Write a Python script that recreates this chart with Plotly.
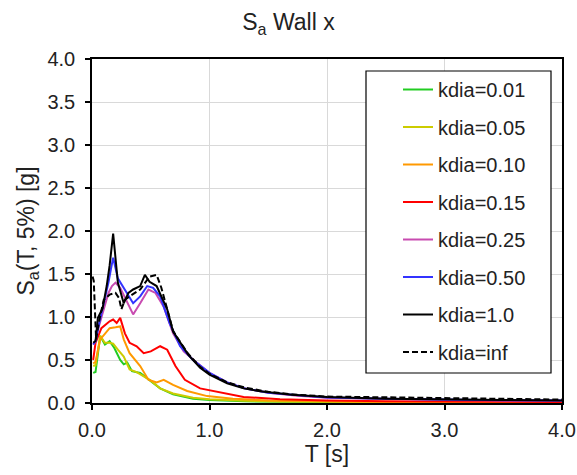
import plotly.graph_objects as go

# Spectral acceleration S_a(T, 5%) of the wall in x, for several diaphragm stiffnesses
labels = ["kdia=0.01", "kdia=0.05", "kdia=0.10", "kdia=0.15",
          "kdia=0.25", "kdia=0.50", "kdia=1.0", "kdia=inf"]
colors = ["#22CC22", "#CCCC00", "#FF9900", "#FF0000",
          "#C84BB0", "#3333FF", "#000000", "#000000"]
dashes = ["solid"] * 7 + ["6px,3px"]

T_k001 = [0.01, 0.03, 0.07, 0.11, 0.15, 0.19, 0.24, 0.27, 0.30, 0.34, 0.41, 0.49, 0.58, 0.69, 0.86, 1.0, 1.3, 1.6, 2.0, 2.5, 3.0, 3.5, 4.0]
Sa_k001 = [0.35, 0.36, 0.78, 0.68, 0.72, 0.64, 0.50, 0.45, 0.47, 0.37, 0.35, 0.27, 0.17, 0.10, 0.05, 0.035, 0.02, 0.015, 0.01, 0.008, 0.006, 0.005, 0.004]

T_k005 = [0.01, 0.03, 0.07, 0.11, 0.15, 0.18, 0.22, 0.27, 0.32, 0.38, 0.49, 0.58, 0.69, 0.86, 1.0, 1.3, 1.6, 2.0, 2.5, 3.0, 3.5, 4.0]
Sa_k005 = [0.43, 0.44, 0.78, 0.70, 0.70, 0.69, 0.62, 0.54, 0.39, 0.36, 0.27, 0.17, 0.11, 0.06, 0.045, 0.025, 0.018, 0.012, 0.009, 0.007, 0.006, 0.005]

T_k010 = [0.01, 0.03, 0.07, 0.11, 0.15, 0.20, 0.24, 0.27, 0.32, 0.41, 0.48, 0.55, 0.61, 0.69, 0.81, 0.98, 1.2, 1.5, 2.0, 2.5, 3.0, 3.5, 4.0]
Sa_k010 = [0.46, 0.48, 0.74, 0.80, 0.87, 0.88, 0.89, 0.74, 0.58, 0.43, 0.27, 0.24, 0.27, 0.21, 0.14, 0.08, 0.05, 0.03, 0.018, 0.012, 0.01, 0.008, 0.007]

T_k015 = [0.01, 0.03, 0.08, 0.12, 0.15, 0.18, 0.21, 0.24, 0.28, 0.32, 0.38, 0.44, 0.50, 0.58, 0.64, 0.71, 0.79, 0.92, 1.09, 1.29, 1.6, 2.0, 2.5, 3.0, 3.5, 4.0]
Sa_k015 = [0.50, 0.70, 0.87, 0.92, 0.95, 0.97, 0.93, 0.99, 0.81, 0.70, 0.66, 0.58, 0.60, 0.66, 0.62, 0.43, 0.27, 0.17, 0.12, 0.07, 0.045, 0.03, 0.02, 0.016, 0.013, 0.011]

T_k025 = [0.01, 0.03, 0.06, 0.10, 0.14, 0.17, 0.20, 0.24, 0.30, 0.35, 0.41, 0.48, 0.54, 0.61, 0.69, 0.78, 0.89, 1.0, 1.15, 1.3, 1.5, 1.75, 2.0, 2.5, 3.0, 3.5, 4.0]
Sa_k025 = [0.68, 0.72, 0.90, 1.10, 1.28, 1.36, 1.40, 1.34, 1.16, 1.03, 1.16, 1.32, 1.28, 1.12, 0.81, 0.60, 0.47, 0.35, 0.24, 0.17, 0.12, 0.085, 0.06, 0.045, 0.035, 0.03, 0.026]

T_k050 = [0.01, 0.03, 0.06, 0.10, 0.14, 0.16, 0.18, 0.22, 0.28, 0.35, 0.41, 0.47, 0.52, 0.58, 0.66, 0.75, 0.86, 1.0, 1.15, 1.3, 1.5, 1.75, 2.0, 2.5, 3.0, 3.5, 4.0]
Sa_k050 = [0.68, 0.72, 0.92, 1.15, 1.40, 1.55, 1.69, 1.45, 1.32, 1.16, 1.24, 1.36, 1.34, 1.24, 0.93, 0.66, 0.50, 0.35, 0.24, 0.17, 0.12, 0.09, 0.065, 0.048, 0.038, 0.032, 0.028]

T_k100 = [0.01, 0.03, 0.05, 0.09, 0.125, 0.15, 0.18, 0.22, 0.27, 0.31, 0.35, 0.41, 0.45, 0.49, 0.55, 0.59, 0.64, 0.69, 0.75, 0.82, 0.86, 0.92, 1.0, 1.15, 1.29, 1.43, 1.7, 2.0, 2.5, 3.0, 3.5, 4.0]
Sa_k100 = [0.70, 0.72, 0.99, 1.10, 1.36, 1.60, 1.97, 1.40, 1.16, 1.28, 1.32, 1.36, 1.49, 1.41, 1.36, 1.24, 1.09, 0.83, 0.70, 0.56, 0.50, 0.41, 0.33, 0.23, 0.17, 0.136, 0.095, 0.07, 0.05, 0.04, 0.034, 0.03]

T_kinf = [0.005, 0.015, 0.035, 0.06, 0.10, 0.15, 0.20, 0.23, 0.25, 0.28, 0.32, 0.41, 0.49, 0.55, 0.59, 0.64, 0.69, 0.75, 0.82, 0.92, 1.0, 1.15, 1.3, 1.5, 1.75, 2.0, 2.5, 3.0, 3.5, 4.0]
Sa_kinf = [1.47, 1.42, 0.74, 0.95, 1.20, 1.26, 1.28, 1.22, 1.09, 1.20, 1.24, 1.32, 1.47, 1.49, 1.34, 1.10, 0.84, 0.71, 0.57, 0.42, 0.34, 0.24, 0.18, 0.13, 0.095, 0.075, 0.065, 0.06, 0.05, 0.04]

periods = [T_k001, T_k005, T_k010, T_k015, T_k025, T_k050, T_k100, T_kinf]
spectra = [Sa_k001, Sa_k005, Sa_k010, Sa_k015, Sa_k025, Sa_k050, Sa_k100, Sa_kinf]

W, H = 577, 475
ML, MR, MT, MB = 92, 15, 59, 72
PW, PH = W - ML - MR, H - MT - MB


def px_x(p):
    return (p - ML) / PW


def px_y(p):
    return (H - MB - p) / PH


fig = go.Figure()
for i, (lab, T, Sa) in enumerate(zip(labels, periods, spectra)):
    fig.add_trace(go.Scatter(
        x=T, y=Sa, mode="lines", name=lab, legendgroup=lab,
        line=dict(color=colors[i], width=2, dash=dashes[i]),
    ))

font_family = "Liberation Sans, Arial, sans-serif"
axis_common = dict(
    showline=True, linecolor="black", linewidth=1.5, mirror=True,
    showgrid=True, gridcolor="#d9d9d9", gridwidth=1,
    ticks="outside", ticklen=5, tickcolor="black", tickwidth=1.5,
    tickformat=".1f", zeroline=False, automargin=False,
    tickfont=dict(size=20, color="#222"),
    title_font=dict(size=23, color="#222"),
)

# legend frame
fig.add_shape(type="rect", xref="paper", yref="paper",
              x0=px_x(366), x1=px_x(551), y0=px_y(373), y1=px_y(71),
              line=dict(color="black", width=1.2), fillcolor="white", layer="above")

fig.update_layout(
    width=W, height=H,
    margin=dict(l=ML, r=MR, t=MT, b=MB),
    paper_bgcolor="white", plot_bgcolor="white",
    font=dict(family=font_family, color="#222"),
    title=dict(text="S<sub>a</sub> Wall x", x=0.5, xanchor="center", xref="container",
               y=1 - 22 / H, yanchor="middle", yref="container",
               font=dict(size=23, color="#222")),
    xaxis=dict(axis_common, range=[0, 4], dtick=1.0, ticklabelstandoff=3,
               title=dict(text="T [s]", standoff=4)),
    yaxis=dict(axis_common, range=[0, 4], dtick=0.5, ticklabelstandoff=6,
               title=dict(text="S<sub>a</sub>(T, 5%) [g]", standoff=6)),
    legend=dict(
        x=px_x(398), y=px_y(70), xanchor="left", yanchor="top",
        bgcolor="rgba(0,0,0,0)", borderwidth=0,
        font=dict(size=20, color="#222"),
        traceorder="grouped", tracegroupgap=8.5,
    ),
    showlegend=True,
)

fig.write_html("out.html")
